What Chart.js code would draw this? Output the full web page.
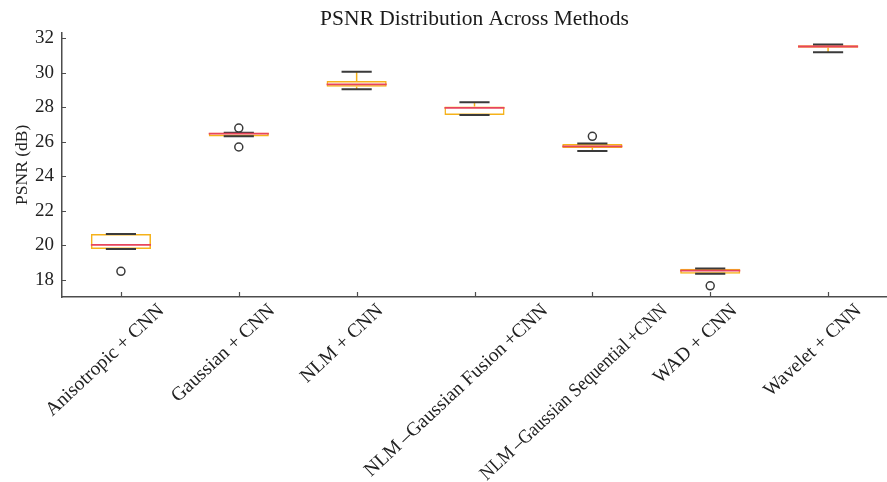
<!DOCTYPE html>
<html>
<head>
<meta charset="utf-8">
<script src="https://cdn.jsdelivr.net/npm/chart.js@4.4.1/dist/chart.umd.min.js"></script>
<style>
  html, body { margin: 0; padding: 0; background: #fff; }
  #wrap { width: 887px; height: 482px; }
</style>
</head>
<body>
<div id="wrap"><canvas id="chart"></canvas></div>
<script>
// values
const methods = [
  'Anisotropic + CNN',
  'Gaussian + CNN',
  'NLM + CNN',
  'NLM\u2009–Gaussian Fusion\u2009+CNN',
  'NLM\u2009–Gaussian Sequential\u2009+CNN',
  'WAD + CNN',
  'Wavelet + CNN'
];
const lowWhisker  = [19.79, 26.33, 29.05, 27.56, 25.47, 18.35, 31.19];
const q1          = [19.79, 26.31, 29.19, 27.56, 25.64, 18.35, 31.46];
const medians     = [20.02, 26.48, 29.33, 27.97, 25.74, 18.53, 31.53];
const q3          = [20.66, 26.53, 29.53, 28.05, 25.87, 18.64, 31.60];
const highWhisker = [20.66, 26.53, 30.06, 28.30, 25.90, 18.66, 31.65];
const outliers    = [[18.49], [26.80, 25.70], [], [], [26.32], [17.65], []];
const yMin = 17, yMax = 32.33, yStep = 2;

const FONT = 'Liberation Serif';
const boxColor = '#f5b21a';
const medianColor = '#e8455c';
const whiskerColor = '#3a3a3a';
const axisColor = '#4d4d4d';
const boxHalf = 0.255, capHalf = 0.128;
const labelAngle = 43 * Math.PI / 180;
const labelMaxWidth = 248;

// horizontal segments centred on each category (null breaks the line)
const hSegments = (vals, half) => vals.flatMap((v, i) => [
  { x: i - half, y: v }, { x: i + half, y: v }, { x: i, y: null }
]);
const vSegments = (from, to) => from.flatMap((v, i) => [
  { x: i, y: v }, { x: i, y: to[i] }, { x: i, y: null }
]);
const outlierPoints = outliers.flatMap((vals, i) => vals.map(v => ({ x: i, y: v })));

const segLine = (label, data, color, width, order) => ({
  type: 'line', label, data, xAxisID: 'xs', borderColor: color, borderWidth: width,
  pointRadius: 0, spanGaps: false, fill: false, order
});

// inward tick marks (MATLAB style) and rotated category labels
const axisDecor = {
  id: 'axisDecor',
  afterDraw(chart) {
    const { ctx, scales: { x, y } } = chart;
    ctx.save();
    ctx.strokeStyle = axisColor;
    ctx.lineWidth = 1.2;
    ctx.beginPath();
    methods.forEach((m, i) => {
      const px = Math.round(x.getPixelForTick(i)) + 0.5;
      ctx.moveTo(px, x.top);
      ctx.lineTo(px, x.top - 5);
    });
    y.ticks.forEach((t, i) => {
      const py = Math.round(y.getPixelForTick(i)) + 0.5;
      ctx.moveTo(y.right, py);
      ctx.lineTo(y.right + 4, py);
    });
    ctx.stroke();

    ctx.font = '19.5px "' + FONT + '"';
    ctx.fillStyle = '#222';
    ctx.textAlign = 'right';
    ctx.textBaseline = 'middle';
    methods.forEach((m, i) => {
      const w = Math.min(ctx.measureText(m).width, labelMaxWidth);
      const px = x.getPixelForTick(i) + 0.34 * w - 12;
      const py = x.top + 11;
      ctx.save();
      ctx.translate(px, py);
      ctx.rotate(-labelAngle);
      ctx.fillText(m, 0, 0, labelMaxWidth);
      ctx.restore();
    });
    ctx.restore();
  }
};

new Chart(document.getElementById('chart'), {
  data: {
    labels: methods,
    datasets: [
      {
        type: 'line', label: 'Outliers', data: outlierPoints, xAxisID: 'xs', showLine: false,
        pointRadius: 4, pointBorderWidth: 1.5, pointBorderColor: whiskerColor,
        pointBackgroundColor: '#fff', order: 0
      },
      segLine('Median', hSegments(medians, boxHalf), medianColor, 1.8, 1),
      segLine('Upper cap', hSegments(highWhisker, capHalf), whiskerColor, 2, 2),
      segLine('Lower cap', hSegments(lowWhisker, capHalf), whiskerColor, 2, 2),
      {
        type: 'bar', label: 'Box', data: q1.map((v, i) => [v, q3[i]]),
        backgroundColor: 'rgba(255,255,255,0)', borderColor: boxColor, borderWidth: 1.5,
        borderSkipped: false, grouped: false,
        barPercentage: boxHalf * 2, categoryPercentage: 1, order: 3
      },
      segLine('Upper whisker', vSegments(q3, highWhisker), boxColor, 1.5, 4),
      segLine('Lower whisker', vSegments(lowWhisker, q1), boxColor, 1.5, 4)
    ]
  },
  options: {
    responsive: true,
    maintainAspectRatio: false,
    animation: false,
    layout: { padding: 0, autoPadding: false },
    plugins: {
      legend: { display: false },
      tooltip: { enabled: false },
      title: {
        display: true,
        text: 'PSNR Distribution Across Methods',
        fullSize: false,
        color: '#1a1a1a',
        font: { family: FONT, size: 21.5, weight: 'normal' },
        padding: { top: 6, bottom: 0.9 }
      }
    },
    scales: {
      x: {
        type: 'category',
        offset: true,
        grid: { display: false, drawTicks: false },
        border: { display: true, color: axisColor, width: 1.5 },
        ticks: { display: false },
        afterFit: s => { s.height = 185; }
      },
      xs: {
        type: 'linear',
        display: false,
        min: -0.5,
        max: methods.length - 0.5
      },
      y: {
        min: yMin,
        max: yMax,
        grid: { display: false, drawTicks: false },
        border: { display: true, color: axisColor, width: 1.5 },
        ticks: {
          stepSize: yStep,
          includeBounds: false,
          padding: 8,
          color: '#222',
          font: { family: FONT, size: 19 }
        },
        title: {
          display: true,
          text: 'PSNR (dB)',
          color: '#222',
          font: { family: FONT, size: 17.5 },
          padding: { top: 12, bottom: 0 }
        },
        afterFit: s => { s.width = 62; }
      }
    }
  },
  plugins: [axisDecor]
});
</script>
</body>
</html>
